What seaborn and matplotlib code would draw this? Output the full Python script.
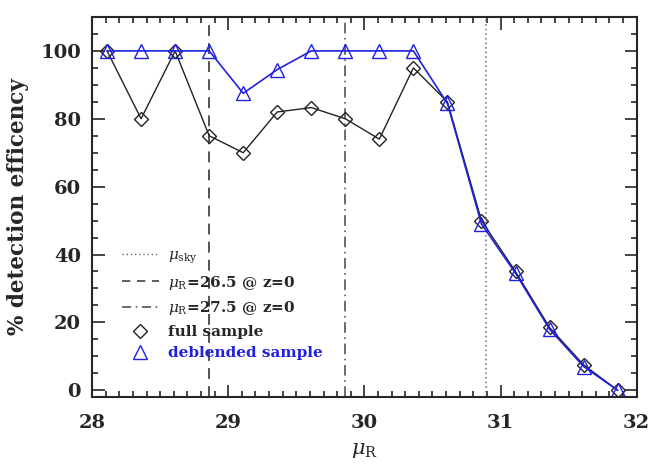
import numpy as np
import pandas as pd
import matplotlib
matplotlib.use("Agg")
import matplotlib.pyplot as plt
import seaborn as sns
from matplotlib.lines import Line2D
from matplotlib.ticker import MultipleLocator

# surface brightness bins
mu_R = [28.11, 28.36, 28.61, 28.86, 29.11, 29.36, 29.61, 29.86,
        30.11, 30.36, 30.61, 30.86, 31.11, 31.36, 31.61, 31.86]
full_eff = [100, 80, 100, 75, 70, 82, 83.3, 80, 74, 95, 85, 50, 35, 18.5, 7.5, 0]
debl_eff = [100, 100, 100, 100, 87.5, 94.5, 100, 100, 100, 100, 84.5, 49, 34.5, 18, 7, 0]

mu_sky = 30.89
mu_265 = 28.86
mu_275 = 29.86

sns.set_style("ticks")
plt.rcParams['font.family'] = ['DejaVu Serif']
plt.rcParams['mathtext.fontset'] = 'dejavuserif'

df = pd.DataFrame({'mu': mu_R * 2,
                   'eff': full_eff + debl_eff,
                   'sample': ['full'] * len(mu_R) + ['deblended'] * len(mu_R)})

fig = plt.figure(figsize=(6.53, 4.71), dpi=100)
ax = fig.add_axes([0.141, 0.157, 0.834, 0.807])

ax.axvline(mu_265, color='#444444', ls=(0, (6, 4)), lw=1.3)
ax.axvline(mu_275, color='#444444', ls=(0, (7, 3, 1, 3)), lw=1.1)
ax.axvline(mu_sky, color='#666666', ls=(0, (1, 2)), lw=1.1)

sns.lineplot(data=df[df['sample'] == 'full'], x='mu', y='eff', color='#222222',
             marker='D', markersize=7, markerfacecolor='none', markeredgecolor='#222222',
             markeredgewidth=1.0, lw=1.0, ax=ax)
sns.lineplot(data=df[df['sample'] == 'deblended'], x='mu', y='eff', color='#2020e0',
             marker='^', markersize=10, markerfacecolor='none', markeredgecolor='#2020e0',
             markeredgewidth=1.0, lw=1.2, ax=ax)

ax.set_xlim(28, 32)
ax.set_ylim(-2, 110)
ax.xaxis.set_major_locator(MultipleLocator(1))
ax.xaxis.set_minor_locator(MultipleLocator(0.1))
ax.yaxis.set_major_locator(MultipleLocator(20))
ax.yaxis.set_minor_locator(MultipleLocator(5))
ax.tick_params(which='both', direction='in', top=True, right=True, width=1.2)
ax.tick_params(which='major', length=9, labelsize=14, pad=8)
ax.tick_params(axis='x', which='major', pad=12)
ax.tick_params(which='minor', length=4)
for lab in ax.get_xticklabels() + ax.get_yticklabels():
    lab.set_fontweight('bold')
for s in ax.spines.values():
    s.set_linewidth(1.5)

ax.set_xlabel(r'$\mu_{\rm R}$', fontsize=15, labelpad=7)
ax.set_ylabel('% detection efficency', fontsize=15.5, fontweight='bold', labelpad=8)

handles = [
    Line2D([], [], color='#666666', ls=(0, (1, 2)), lw=1.0),
    Line2D([], [], color='#444444', ls=(0, (5, 4)), lw=1.2),
    Line2D([], [], color='#444444', ls=(0, (6, 3, 1, 3)), lw=1.1),
    Line2D([], [], ls='none', marker='D', markersize=7, markerfacecolor='none',
           markeredgecolor='#222222'),
    Line2D([], [], ls='none', marker='^', markersize=10, markerfacecolor='none',
           markeredgecolor='#2020e0'),
]
labels = [r'$\mu_{\rm sky}$', r'$\mu_{\rm R}$=26.5 @ z=0', r'$\mu_{\rm R}$=27.5 @ z=0',
          'full sample', 'deblended sample']
leg = ax.legend(handles, labels, loc='lower left', bbox_to_anchor=(0.03, 0.06),
                frameon=False, fontsize=11, handlelength=2.4, labelspacing=0.5,
                handletextpad=0.6)
for t in leg.get_texts():
    t.set_fontweight('bold')
leg.get_texts()[-1].set_color('#2020e0')

plt.savefig('out.png', dpi=100)
